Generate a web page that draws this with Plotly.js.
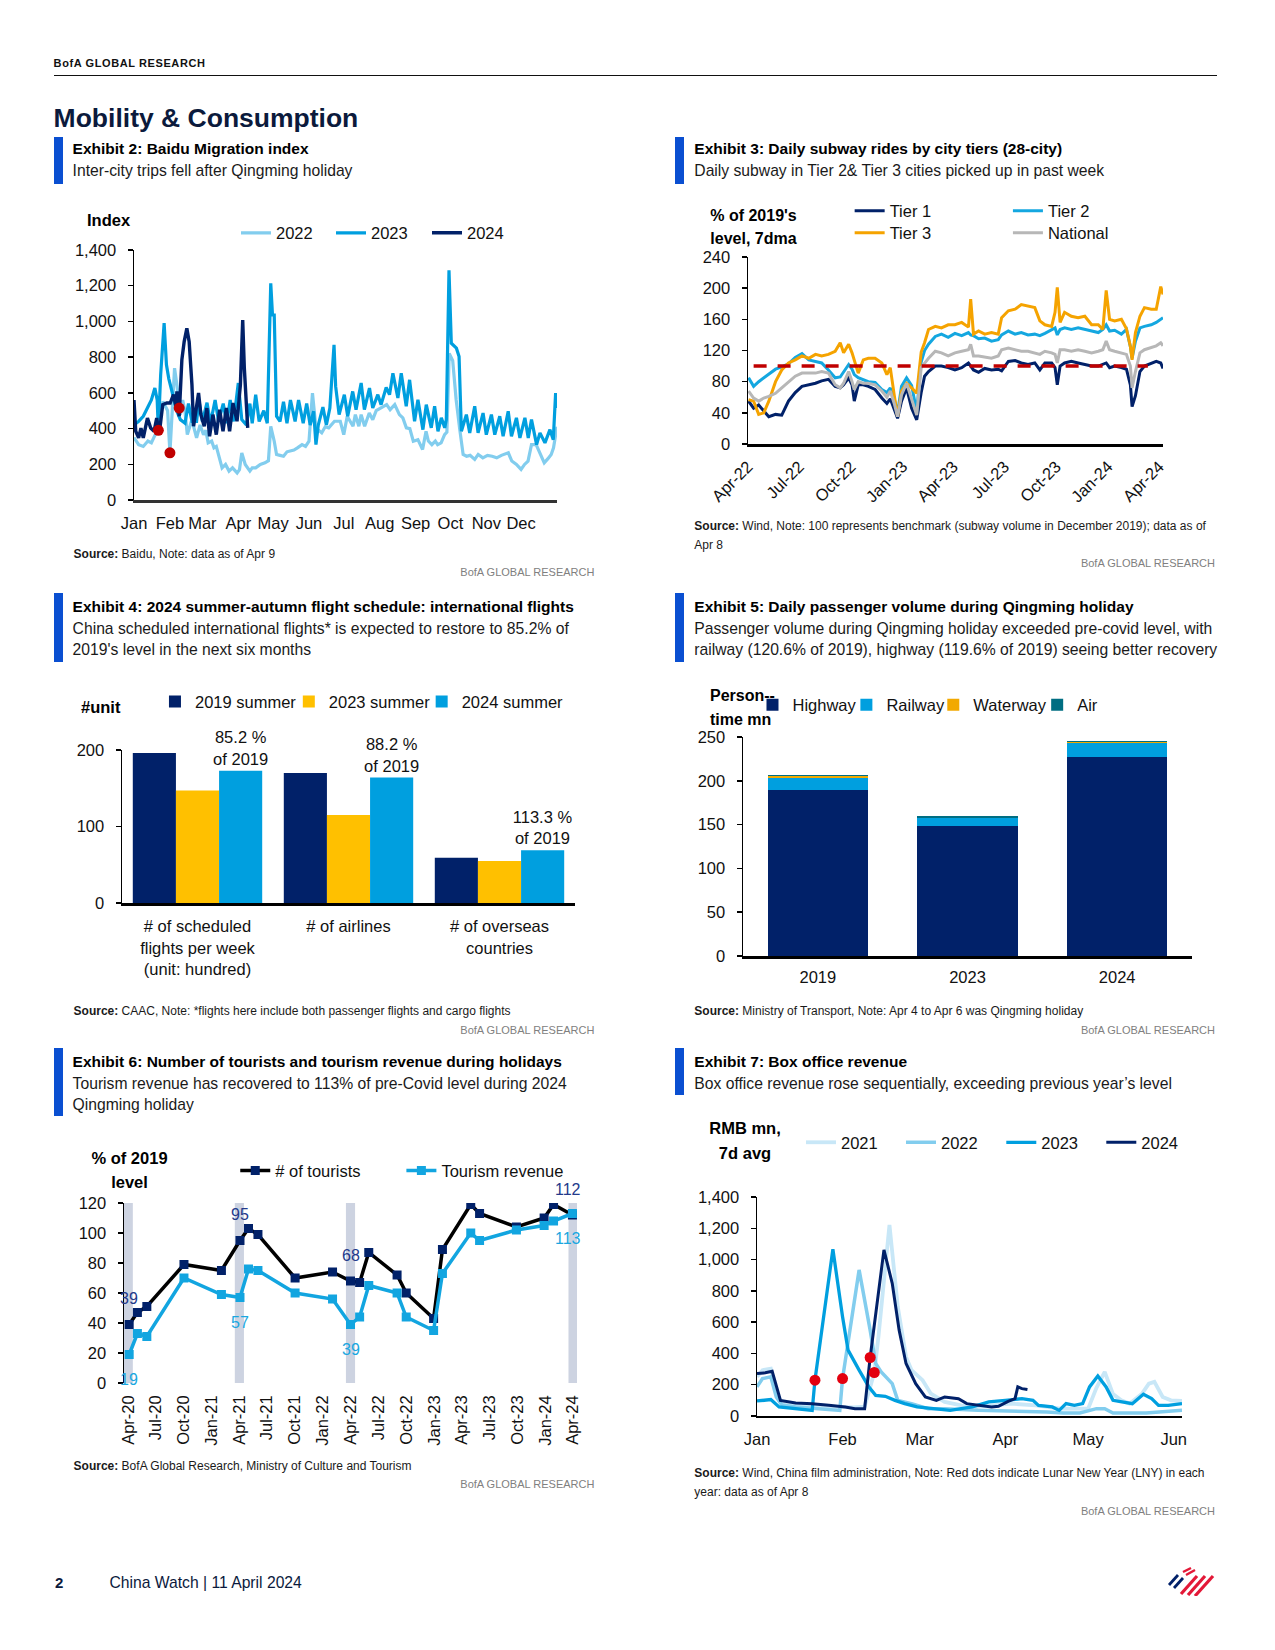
<!DOCTYPE html>
<html><head><meta charset="utf-8">
<script src="https://cdn.plot.ly/plotly-3.0.1.min.js"></script>
<style>
html,body{margin:0;padding:0;background:#fff;}
#page{position:relative;width:1275px;height:1650px;overflow:hidden;font-family:"Liberation Sans",Arial,Helvetica,sans-serif;color:#000;}
.abs{position:absolute;white-space:nowrap;z-index:5;}
.chart{position:absolute;z-index:2;}
</style></head><body><div id="page"></div>
<script>
// ---------------- DATA ----------------
// Exhibit 2: Baidu migration index, [day of year, index]
const baidu2022 = [[0,350],[4,310],[8,300],[12,330],[15,320],[18,357],[21,403],[25,552],[29,500],[31,264],[33,520],[35,738],[37,645],[40,478],[42,560],[44,496],[46,366],[49,430],[51,422],[54,348],[57,420],[60,366],[62,390],[64,320],[67,330],[69,292],[71,300],[73,255],[76,180],[79,199],[82,162],[85,180],[89,152],[91,170],[93,264],[96,199],[100,162],[102,180],[105,180],[109,199],[113,208],[116,220],[118,413],[121,329],[123,255],[126,250],[129,245],[132,270],[135,273],[138,280],[141,292],[145,310],[148,300],[151,329],[154,599],[157,404],[162,376],[165,410],[168,404],[173,441],[178,441],[181,366],[184,469],[189,413],[191,478],[194,413],[196,478],[199,413],[203,487],[206,450],[209,500],[213,515],[218,534],[221,506],[225,534],[229,478],[232,460],[235,404],[238,400],[241,329],[245,338],[249,283],[252,385],[254,330],[257,310],[260,330],[262,310],[265,320],[268,366],[270,380],[272,820],[275,780],[278,560],[281,400],[284,255],[287,245],[290,250],[294,227],[297,255],[301,236],[305,250],[309,245],[313,236],[317,250],[320,255],[323,264],[326,218],[330,199],[334,171],[337,199],[340,218],[343,310],[347,310],[351,255],[354,208],[357,230],[360,255],[362,292],[365,410]];
const baidu2023 = [[0,420],[4,440],[8,469],[12,520],[15,560],[18,627],[20,560],[21,390],[23,700],[26,990],[28,757],[30,680],[33,608],[37,497],[40,450],[44,430],[47,540],[50,440],[54,440],[56,560],[59,440],[63,545],[66,430],[70,560],[73,440],[77,540],[80,430],[83,560],[86,440],[90,655],[93,450],[97,420],[100,540],[102,430],[105,590],[108,440],[112,500],[115,430],[118,1213],[119.5,1036],[121,1036],[123,469],[126,440],[129,550],[132,430],[135,560],[139,440],[142,560],[146,430],[149,540],[152,420],[155,497],[157,310],[159,420],[163,520],[166,420],[169,515],[172.6,869],[174,636],[177,478],[181.5,590],[184.4,469],[188.7,608],[191.6,506],[196,655],[198.8,506],[203.2,627],[206,515],[210.4,590],[213.2,534],[217.6,630],[220.5,590],[223.4,710],[227.7,571],[230.6,710],[234.9,525],[237.8,673],[242.1,441],[245,562],[249.3,394],[252.2,534],[256.5,404],[259.4,525],[262.3,385],[265.2,460],[268.1,404],[269.5,450],[271.8,1287],[273.8,878],[278.2,850],[280.5,803],[282.5,385],[286.8,478],[289.7,376],[294,525],[296.9,376],[301.2,487],[304,366],[308.4,478],[311.3,366],[315.6,469],[318.5,357],[322.9,497],[325.7,357],[330,460],[333,348],[337.3,460],[340.2,348],[343,450],[347.4,310],[350.3,376],[354.6,320],[358.9,394],[361.8,338],[363.8,599],[365,515]];
const baidu2024 = [[0,560],[1.5,385],[4,348],[6,403],[8,348],[11.6,459],[14.4,403],[17.3,385],[19.6,459],[21.7,366],[24.8,534],[28.3,543],[31.2,543],[34.1,590],[36.4,515],[37,608],[39,469],[41.3,785],[43.3,887],[45.6,962],[47.6,887],[50,645],[51.4,413],[53.4,515],[55.7,599],[57.7,478],[60.6,413],[62.9,515],[65.2,357],[68.1,478],[71,366],[73.9,506],[76.8,385],[79.7,515],[82.5,385],[85.4,543],[88.9,441],[91.8,645],[93.8,1008],[95.2,738],[96.7,590],[98.1,404]];
const baiduLNY = [[21,390],[31,264],[39,515]];
const monthNames = ['Jan','Feb','Mar','Apr','May','Jun','Jul','Aug','Sep','Oct','Nov','Dec'];
const monthStartDays = [0,31,59,90,120,151,181,212,243,273,304,334];

// Exhibit 3: subway rides, days since 1-Apr-2022
const subwayDays = [1,10,19,28,37,49,60,72,84,96,108,120,131,143,155,164,170,179,185,189,196,205,214,226,238,247,253,260,266,273,282,291,300,308,314,321,333,344,356,368,380,392,396,401,410,421,433,445,451,463,475,486,498,510,519,528,540,546,550,555,563,575,587,599,611,623,631,637,643,652,664,673,680,683,689,697,705,717,726,734,738];
const tier1 = [55,46,50,42,35, 38,37,55,66,74, 76,78,81,83,74, 72,76,85,76,55, 76,76,74,70,59, 52,58,43,33,55, 72,46,31,66,87, 93,100,100,98,95, 98,104,100,95,92, 97,95,96,94,106, 107,104,102,104,95, 104,104,98,76,100, 104,106,104,102,100, 100,102,104,98,100, 98,96,76,48,62, 93,100,104,106,104, 97];
const tier2 = [85,74,80,85,89, 96,99,103,111,116, 108,106,104,95,85, 86,92,102,96,89, 85,82,80,79,70, 66,72,58,40,74, 85,75,42,105,120, 128,138,141,137,142, 139,143,140,139,135, 136,132,134,140,145, 141,143,140,141,139, 142,147,149,140,147, 149,147,149,147,145, 143,147,153,145,146, 141,147,125,110,132, 149,151,153,156,160, 162];
const tier3 = [57,55,38,40,55, 80,95,104,108,113, 110,115,113,115,119, 130,117,128,117,108, 91,108,110,110,104, 89,98,63,35,68, 78,72,65,118,130, 147,151,149,153,153, 156,150,186,141,145, 141,143,141,162,171, 173,179,177,175,158, 153,151,169,201,156, 169,164,162,164,153, 153,147,197,160,158, 160,148,125,108,143, 164,175,173,173,202, 192];
const national = [68,59,55,59,61, 65,72,80,87,91, 91,91,93,91,76, 72,78,93,80,70, 80,78,78,76,68, 60,68,52,35,63, 78,58,37,98,104, 110,119,117,113,117, 119,121,128,113,113, 112,110,113,121,123, 121,119,119,117,115, 119,117,115,104,121, 121,119,121,119,117, 119,121,132,121,119, 117,115,100,72,93, 117,121,124,126,130, 126];
const benchDays = [10,711];
const benchValues = [100,100];
const quarterDays = [0,91,183,275,365,456,548,640,731];
const quarterLabels = ['Apr-22','Jul-22','Oct-22','Jan-23','Apr-23','Jul-23','Oct-23','Jan-24','Apr-24'];

// Exhibit 4: international flights
const flightCats = ['# of scheduled<br>flights per week<br>(unit: hundred)','# of airlines','# of overseas<br>countries'];
const summer2019 = [196,170,59];
const summer2023 = [147,115,55];
const summer2024 = [173,164,69];
const ratioLabels = ['85.2 %<br>of 2019','88.2 %<br>of 2019','113.3 %<br>of 2019'];

// Exhibit 5: Qingming passenger volume (person-time mn)
const qmYears = ['2019','2023','2024'];
const highway = [189,148,227];
const railway = [14,9,16];
const waterway = [2,0.6,1];
const air = [2,2.1,1.6];

// Exhibit 6: tourists and revenue (% of 2019)
const holidayDates = ['2020-04-04','2020-05-01','2020-06-01','2020-10-01','2021-02-01','2021-04-03','2021-05-01','2021-06-01','2021-10-01','2022-02-01','2022-04-01','2022-05-01','2022-05-31','2022-09-01','2022-10-01','2022-12-30','2023-01-28','2023-05-01','2023-05-30','2023-09-28','2023-12-28','2024-01-28','2024-03-30'];
const tourists = [39,47,51,79,75,95,103,99,70,74,68,67,87,72,60,43,89,119,113,104,110,119,112];
const revenue = [19,33,31,70,59,57,76,75,60,56,39,44,65,60,44,35,73,100,95,102,105,108,113];
const labelledIdx = [0,5,10,22];
const qingmingBands = ['2020-04-01','2021-04-01','2022-04-01','2024-04-01'];
const bandHeight = [120,120,120,120];
const tourQuarterDates = ['2020-04-01','2020-07-01','2020-10-01','2021-01-01','2021-04-01','2021-07-01','2021-10-01','2022-01-01','2022-04-01','2022-07-01','2022-10-01','2023-01-01','2023-04-01','2023-07-01','2023-10-01','2024-01-01','2024-04-01'];
const tourQuarterLabels = ['Apr-20','Jul-20','Oct-20','Jan-21','Apr-21','Jul-21','Oct-21','Jan-22','Apr-22','Jul-22','Oct-22','Jan-23','Apr-23','Jul-23','Oct-23','Jan-24','Apr-24'];

// Exhibit 7: box office, [day of year, RMB mn 7d avg]
const box2021 = [[0,250],[2,293],[5,303],[7,150],[9,80],[15,65],[25,60],[35,55],[39,60],[42.5,278],[44,506],[48,1222],[51,699],[54,378],[56,293],[60,229],[63,143],[68,90],[74,68],[80,58],[92,79],[101,68],[110,47],[120,47],[123,180],[126,282],[129,140],[132,100],[135,79],[139.5,143],[142,207],[144,218],[147,122],[150,100],[154,96]];
const box2022 = [[0,186],[2,239],[5,250],[7,122],[9,70],[14,58],[20,50],[26,41],[30,36],[31,239],[37,934],[41,549],[43,336],[45,282],[49,207],[51,100],[56,79],[62,47],[68,47],[80,36],[93,32],[105,26],[111,19],[117,19],[123,47],[126,47],[129,19],[141,19],[154,36]];
const box2023 = [[0,96],[5,105],[8,58],[14,47],[20,36],[21,229],[27.5,1066],[31,635],[33,421],[37,293],[40.5,186],[43,132],[46.5,126],[50,100],[53.5,79],[58,58],[64,47],[70,36],[78,58],[84,90],[90,100],[96,111],[100,100],[102,68],[107,58],[109.5,36],[112,79],[115,68],[118,79],[120.5,186],[123.5,256],[126.5,186],[129,100],[132.5,90],[136,79],[140,139],[143,111],[145.5,68],[149,68],[154,79]];
const box2024 = [[0,271],[3,276],[5.5,286],[8.5,100],[14,83],[20,79],[26,68],[32,58],[35.5,47],[39,47],[41,374],[46,1062],[49,848],[51.5,549],[54,336],[57.5,207],[61,122],[65,100],[68,122],[73,111],[76,79],[80,68],[85,58],[87.5,62],[91,94],[93.5,111],[94.5,186],[96,175],[98,169]];
const boxLNY = [[21,229],[31,239],[41,374],[42.5,278]];
const boxMonthDays = [0,31,59,90,120,151];
const boxMonthNames = ['Jan','Feb','Mar','Apr','May','Jun'];

// ---------------- STYLE ----------------
const F = '"Liberation Sans", Arial, Helvetica, sans-serif';
const FS = 16.5;
const NAVY='#012169', BLUE='#009FDF', LIGHT='#82CDEE', PALE='#C8E7F7', ORANGE='#F5A300', GRAY='#B7B7B7', YELLOW='#FFC000', TEAL='#006E82';
const page = document.getElementById('page');

function T(html, x, cy, o) {
  o = o || {};
  const d = document.createElement('div');
  d.className = 'abs'; d.innerHTML = html;
  const size = o.size || 15.5, lh = o.lh || Math.round(size * 1.3);
  d.style.fontSize = size + 'px'; d.style.lineHeight = lh + 'px';
  d.style.top = (cy - lh / 2) + 'px';
  if (o.align === 'right') { d.style.right = (1275 - x) + 'px'; d.style.textAlign = 'right'; }
  else if (o.align === 'center') { d.style.left = (x - 150) + 'px'; d.style.width = '300px'; d.style.textAlign = 'center'; }
  else d.style.left = x + 'px';
  if (o.bold) d.style.fontWeight = 'bold';
  d.style.color = o.color || '#000';
  if (o.ls) d.style.letterSpacing = o.ls + 'px';
  page.appendChild(d);
}
function R(x, y, w, h, c) {
  const d = document.createElement('div');
  d.className = 'abs';
  Object.assign(d.style, {left: x + 'px', top: y + 'px', width: w + 'px', height: h + 'px', background: c});
  page.appendChild(d);
}
function block(x, top, h, title, subs, cy) {
  R(x, top, 9, h, '#0A4FD1');
  T(title, x + 19, cy, {size: 15.5, bold: true, color: '#000'});
  subs.forEach((s, i) => T(s, x + 19, cy + 22 + i * 21, {size: 15.7, color: '#1a1a1a'}));
}
function src(html, x, cy) { T(html, x, cy, {size: 12, color: '#1a1a1a'}); }
function bofa(xr, cy) { T('BofA GLOBAL RESEARCH', xr, cy, {size: 11, color: '#808080', align: 'right'}); }

function mk(box, plot) {
  return {
    width: box.w, height: box.h,
    margin: {l: plot.x0 - box.x, r: box.x + box.w - plot.x1, t: plot.y0 - box.y, b: box.y + box.h - plot.y1, pad: 0, autoexpand: false},
    paper_bgcolor: 'rgba(0,0,0,0)', plot_bgcolor: 'rgba(0,0,0,0)',
    font: {family: F, size: FS, color: '#111'},
    showlegend: true, hovermode: false
  };
}
function leg(plot, tx, cy) {
  return {orientation: 'h', xref: 'paper', yref: 'paper',
    x: (tx - 40 - plot.x0) / (plot.x1 - plot.x0), y: (plot.y1 - cy) / (plot.y1 - plot.y0),
    xanchor: 'left', yanchor: 'middle', bgcolor: 'rgba(0,0,0,0)', borderwidth: 0,
    font: {family: F, size: FS, color: '#111'}};
}
function yax(range, dtick, fmt) {
  return {range: range, dtick: dtick, tickformat: fmt || '', showline: true, linecolor: '#000', linewidth: 1.5,
    ticks: 'outside', ticklen: 5, tickwidth: 1.5, tickcolor: '#000', showgrid: false, zeroline: false,
    ticklabelstandoff: 8, tickfont: {family: F, size: FS, color: '#111'}, fixedrange: true};
}
function xax(extra) {
  return Object.assign({showline: true, linecolor: '#000', linewidth: 2.5, ticks: '', showgrid: false, zeroline: false,
    ticklabelstandoff: 7, tickfont: {family: F, size: FS, color: '#111'}, fixedrange: true}, extra);
}
function chart(id, box, traces, layout) {
  const d = document.createElement('div');
  d.id = id; d.className = 'chart';
  Object.assign(d.style, {left: box.x + 'px', top: box.y + 'px', width: box.w + 'px', height: box.h + 'px'});
  page.appendChild(d);
  Plotly.newPlot(d, traces, layout, {staticPlot: true, displayModeBar: false});
}
const X = a => a.map(p => p[0]);
const Y = a => a.map(p => p[1]);

// ---------------- PAGE TEXT ----------------
T('BofA GLOBAL RESEARCH', 53.6, 63, {size: 11, bold: true, ls: 0.6, color: '#111'});
R(53.6, 74.5, 1163.4, 1.2, '#111');
T('Mobility &amp; Consumption', 53.6, 117.8, {size: 26.5, bold: true, color: '#0B1A3C'});

block(53.6, 137, 47, 'Exhibit 2: Baidu Migration index', ['Inter-city trips fell after Qingming holiday'], 149.4);
block(675.3, 137, 47, 'Exhibit 3: Daily subway rides by city tiers (28-city)', ['Daily subway in Tier 2&amp; Tier 3 cities picked up in past week'], 149.4);
block(53.6, 593, 69, 'Exhibit 4: 2024 summer-autumn flight schedule: international flights', ['China scheduled international flights* is expected to restore to 85.2% of', '2019\'s level in the next six months'], 607);
block(675.3, 593, 69, 'Exhibit 5: Daily passenger volume during Qingming holiday', ['Passenger volume during Qingming holiday exceeded pre-covid level, with', 'railway (120.6% of 2019), highway (119.6% of 2019) seeing better recovery'], 607);
block(53.6, 1048, 68, 'Exhibit 6: Number of tourists and tourism revenue during holidays', ['Tourism revenue has recovered to 113% of pre-Covid level during 2024', 'Qingming holiday'], 1061.5);
block(675.3, 1048, 47, 'Exhibit 7: Box office revenue', ['Box office revenue rose sequentially, exceeding previous year’s level'], 1061.5);

src('<b>Source:</b> Baidu, Note: data as of Apr 9', 73.6, 554); bofa(594.4, 572);
src('<b>Source:</b> Wind, Note: 100 represents benchmark (subway volume in December 2019); data as of', 694.3, 526);
src('Apr 8', 694.3, 545); bofa(1215, 563);
src('<b>Source:</b> CAAC, Note: *flights here include both passenger flights and cargo flights', 73.6, 1010.7); bofa(594.4, 1030);
src('<b>Source:</b> Ministry of Transport, Note: Apr 4 to Apr 6 was Qingming holiday', 694.3, 1010.7); bofa(1215, 1030);
src('<b>Source:</b> BofA Global Research, Ministry of Culture and Tourism', 73.6, 1466); bofa(594.4, 1483.5);
src('<b>Source:</b> Wind, China film administration, Note: Red dots indicate Lunar New Year (LNY) in each', 694.3, 1472.7);
src('year: data as of Apr 8', 694.3, 1492.3); bofa(1215, 1511);

T('Index', 87, 220, {size: 16.5, bold: true});
T('% of 2019\'s<br>level, 7dma', 753.5, 215.7, {size: 16, bold: true, lh: 23, align: 'center'});
T('#unit', 81, 707, {size: 16.5, bold: true});
T('Person--<br>time mn', 710, 696, {size: 16, bold: true, lh: 24});
T('% of 2019<br>level', 129.5, 1158, {size: 16.5, bold: true, lh: 24.5, align: 'center'});
T('RMB mn,<br>7d avg', 745, 1128, {size: 16.5, bold: true, lh: 25, align: 'center'});

T('2', 55, 1582.5, {size: 15, bold: true, color: '#0B1A3C'});
T('China Watch | 11 April 2024', 109.4, 1582.5, {size: 15.7, color: '#0B1A3C'});
(function logo() {
  const d = document.createElement('div'); d.className = 'abs';
  Object.assign(d.style, {left: '1166px', top: '1566px'});
  d.innerHTML = '<svg width="52" height="30" viewBox="0 0 52 30">' +
    '<g stroke-linecap="butt" fill="none">' +
    '<path d="M3 19 L12 9" stroke="#012169" stroke-width="2.8"/>' +
    '<path d="M8 22 L17 12" stroke="#012169" stroke-width="2.8"/>' +
    '<path d="M17 6 L25 2" stroke="#E31837" stroke-width="2.4"/>' +
    '<path d="M20 9 L29 4" stroke="#E31837" stroke-width="2.4"/>' +
    '<path d="M15 28 L31 10" stroke="#E31837" stroke-width="3.2"/>' +
    '<path d="M22 29 L39 10" stroke="#E31837" stroke-width="3.2"/>' +
    '<path d="M29 30 L47 10" stroke="#E31837" stroke-width="3.2"/>' +
    '</g></svg>';
  page.appendChild(d);
})();

// ---------------- CHART 2 ----------------
(function(){
  const box = {x: 40, y: 195, w: 545, h: 350}, plot = {x0: 134, x1: 557, y0: 249.5, y1: 500.5};
  const L = mk(box, plot);
  L.xaxis = xax({range: [0, 365], tickvals: monthStartDays, ticktext: monthNames, linecolor: '#333'});
  L.yaxis = yax([0, 1400], 200, ',');
  L.legend = leg(plot, 276, 232.5); L.legend2 = leg(plot, 371, 232.5); L.legend3 = leg(plot, 467, 232.5);
  const tr = [
    {x: X(baidu2022), y: Y(baidu2022), mode: 'lines', name: '2022', line: {color: LIGHT, width: 3.2}, legend: 'legend'},
    {x: X(baidu2023), y: Y(baidu2023), mode: 'lines', name: '2023', line: {color: BLUE, width: 3.2}, legend: 'legend2'},
    {x: X(baidu2024), y: Y(baidu2024), mode: 'lines', name: '2024', line: {color: NAVY, width: 3.4}, legend: 'legend3'},
    {x: X(baiduLNY), y: Y(baiduLNY), mode: 'markers', name: 'LNY', marker: {color: '#C00000', size: 11}, showlegend: false}
  ];
  chart('c2', box, tr, L);
})();

// ---------------- CHART 3 ----------------
(function(){
  const box = {x: 680, y: 195, w: 540, h: 320}, plot = {x0: 747.7, x1: 1163.3, y0: 257, y1: 444};
  const L = mk(box, plot);
  L.xaxis = xax({range: [0, 738], tickvals: quarterDays, ticktext: quarterLabels, tickangle: -45, ticklabelstandoff: 4});
  L.yaxis = yax([0, 240], 40);
  L.legend = leg(plot, 889.5, 211); L.legend2 = leg(plot, 1048, 211);
  L.legend3 = leg(plot, 889.5, 233); L.legend4 = leg(plot, 1048, 233);
  const tr = [
    {x: subwayDays, y: tier1, mode: 'lines', name: 'Tier 1', line: {color: NAVY, width: 3}, legend: 'legend'},
    {x: subwayDays, y: tier2, mode: 'lines', name: 'Tier 2', line: {color: '#14A7E0', width: 3}, legend: 'legend2'},
    {x: subwayDays, y: tier3, mode: 'lines', name: 'Tier 3', line: {color: ORANGE, width: 3}, legend: 'legend3'},
    {x: subwayDays, y: national, mode: 'lines', name: 'National', line: {color: GRAY, width: 3}, legend: 'legend4'},
    {x: benchDays, y: benchValues, mode: 'lines', name: 'Benchmark', line: {color: '#C00000', width: 3.5, dash: '13px,11px'}, showlegend: false}
  ];
  chart('c3', box, tr, L);
})();

// ---------------- CHART 4 ----------------
(function(){
  const box = {x: 40, y: 680, w: 560, h: 315}, plot = {x0: 122, x1: 575.5, y0: 750, y1: 903.5};
  const L = mk(box, plot);
  L.barmode = 'group'; L.bargap = 0.143; L.bargroupgap = 0;
  L.xaxis = xax({type: 'category'});
  L.yaxis = yax([0, 200], 100);
  L.legend = leg(plot, 195, 701.5); L.legend2 = leg(plot, 329, 701.5); L.legend3 = leg(plot, 462, 701.5);
  const tr = [
    {type: 'bar', x: flightCats, y: summer2019, name: '2019 summer', marker: {color: NAVY}, legend: 'legend'},
    {type: 'bar', x: flightCats, y: summer2023, name: '2023 summer', marker: {color: YELLOW}, legend: 'legend2'},
    {type: 'bar', x: flightCats, y: summer2024, name: '2024 summer', marker: {color: BLUE}, legend: 'legend3',
      text: ratioLabels, textposition: 'outside', textangle: 0, constraintext: 'none', cliponaxis: false,
      textfont: {family: F, size: FS, color: '#111'}}
  ];
  chart('c4', box, tr, L);
})();

// ---------------- CHART 5 ----------------
(function(){
  const box = {x: 680, y: 680, w: 540, h: 315}, plot = {x0: 742.5, x1: 1192, y0: 737, y1: 956};
  const L = mk(box, plot);
  L.barmode = 'stack'; L.bargap = 0.33;
  L.xaxis = xax({type: 'category', ticklabelstandoff: 5});
  L.yaxis = yax([0, 250], 50);
  L.legend = leg(plot, 792, 705); L.legend2 = leg(plot, 886, 705); L.legend3 = leg(plot, 973, 705); L.legend4 = leg(plot, 1077, 705);
  const tr = [
    {type: 'bar', x: qmYears, y: highway, name: 'Highway', marker: {color: NAVY}, legend: 'legend'},
    {type: 'bar', x: qmYears, y: railway, name: 'Railway', marker: {color: BLUE}, legend: 'legend2'},
    {type: 'bar', x: qmYears, y: waterway, name: 'Waterway', marker: {color: '#F2A900'}, legend: 'legend3'},
    {type: 'bar', x: qmYears, y: air, name: 'Air', marker: {color: TEAL}, legend: 'legend4'}
  ];
  chart('c5', box, tr, L);
})();

// ---------------- CHART 6 ----------------
(function(){
  const box = {x: 40, y: 1140, w: 560, h: 320}, plot = {x0: 123.5, x1: 577.5, y0: 1203, y1: 1383};
  const L = mk(box, plot);
  L.xaxis = xax({type: 'date', range: ['2020-03-18', '2024-04-14'], tickvals: tourQuarterDates, ticktext: tourQuarterLabels, tickangle: -90, showline: false, ticklabelstandoff: 8});
  L.yaxis = yax([0, 120], 20);
  L.legend = leg(plot, 275, 1170.7); L.legend2 = leg(plot, 441.5, 1170.7);
  const ann = [];
  labelledIdx.forEach(i => {
    ann.push({x: holidayDates[i], y: tourists[i], text: String(tourists[i]), showarrow: false, yshift: 26, xshift: i === 22 ? -4 : 0, font: {family: F, size: 16, color: '#233A8B'}});
    ann.push({x: holidayDates[i], y: revenue[i], text: String(revenue[i]), showarrow: false, yshift: -25, xshift: i === 22 ? -4 : 0, font: {family: F, size: 16, color: '#1AA7E0'}});
  });
  L.annotations = ann;
  const tr = [
    {type: 'bar', x: qingmingBands, y: bandHeight, width: 30 * 86400000, marker: {color: '#CDD3E1'}, showlegend: false, name: 'Qingming'},
    {x: holidayDates, y: tourists, mode: 'lines+markers', name: '# of tourists', line: {color: '#000', width: 3.5}, marker: {symbol: 'square', size: 9, color: NAVY}, legend: 'legend'},
    {x: holidayDates, y: revenue, mode: 'lines+markers', name: 'Tourism revenue', line: {color: '#12A5E0', width: 3.5}, marker: {symbol: 'square', size: 9, color: '#12A5E0'}, legend: 'legend2'}
  ];
  chart('c6', box, tr, L);
})();

// ---------------- CHART 7 ----------------
(function(){
  const box = {x: 680, y: 1110, w: 540, h: 350}, plot = {x0: 756.7, x1: 1181.7, y0: 1197.3, y1: 1415.7};
  const L = mk(box, plot);
  L.xaxis = xax({range: [0, 154], tickvals: boxMonthDays, ticktext: boxMonthNames, linewidth: 2});
  L.yaxis = yax([0, 1400], 200, ',');
  L.legend = leg(plot, 840.7, 1143); L.legend2 = leg(plot, 940.7, 1143); L.legend3 = leg(plot, 1041, 1143); L.legend4 = leg(plot, 1141, 1143);
  const tr = [
    {x: X(box2021), y: Y(box2021), mode: 'lines', name: '2021', line: {color: PALE, width: 3.8}, legend: 'legend'},
    {x: X(box2022), y: Y(box2022), mode: 'lines', name: '2022', line: {color: LIGHT, width: 3.5}, legend: 'legend2'},
    {x: X(box2023), y: Y(box2023), mode: 'lines', name: '2023', line: {color: BLUE, width: 3.3}, legend: 'legend3'},
    {x: X(box2024), y: Y(box2024), mode: 'lines', name: '2024', line: {color: NAVY, width: 3}, legend: 'legend4'},
    {x: X(boxLNY), y: Y(boxLNY), mode: 'markers', name: 'LNY', marker: {color: '#E3000F', size: 11}, showlegend: false}
  ];
  chart('c7', box, tr, L);
})();
</script></body></html>
